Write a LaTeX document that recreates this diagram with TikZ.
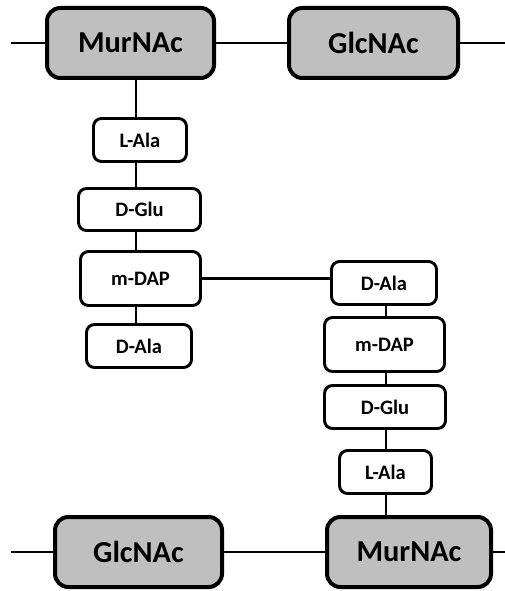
\documentclass[tikz,border=0pt]{standalone}
\usepackage{fontspec}
\setmainfont{Carlito}
\definecolor{sugargray}{HTML}{BFBFBF}
\tikzset{
  sugar/.style={draw, line width=3pt, rounded corners=10pt, fill=sugargray,
    inner sep=0pt, font=\fontsize{22.8}{27}\selectfont\bfseries},
  amino/.style={draw, line width=2.2pt, rounded corners=6pt, fill=white,
    inner sep=0pt, font=\fontsize{15.4}{18}\selectfont\bfseries},
  bond/.style={line width=1.9pt}
}
\begin{document}
\begin{tikzpicture}[x=0.75pt,y=-0.75pt]
\useasboundingbox (0,0) rectangle (505,591);

% glycan strands
\node[sugar, minimum width=167*0.75pt, minimum height=70*0.75pt] (murA) at (130.5,43) {MurNAc};
\node[sugar, minimum width=169*0.75pt, minimum height=70*0.75pt] (glcA) at (373.5,43) {GlcNAc};
\node[sugar, minimum width=167*0.75pt, minimum height=70*0.75pt] (glcB) at (138.5,552) {GlcNAc};
\node[sugar, minimum width=164*0.75pt, minimum height=70*0.75pt] (murB) at (409,552) {MurNAc};
\coordinate (endAl) at (11,43);
\coordinate (endAr) at (505,43);
\coordinate (endBl) at (11,552);
\coordinate (endBr) at (505,552);

% peptide stems
\node[amino, minimum width=93*0.75pt, minimum height=43*0.75pt] (laA) at (140,140) {L-Ala};
\node[amino, minimum width=122*0.75pt, minimum height=42*0.75pt] (dgA) at (139.5,209.5) {D-Glu};
\node[amino, minimum width=120*0.75pt, minimum height=54*0.75pt] (mdA) at (140.5,278.5) {m-DAP};
\node[amino, minimum width=105*0.75pt, minimum height=43*0.75pt] (daA) at (139,346) {D-Ala};

\node[amino, minimum width=105*0.75pt, minimum height=43*0.75pt] (daB) at (384,283) {D-Ala};
\node[amino, minimum width=120*0.75pt, minimum height=54*0.75pt] (mdB) at (384.5,344.5) {m-DAP};
\node[amino, minimum width=121*0.75pt, minimum height=43*0.75pt] (dgB) at (385,407) {D-Glu};
\node[amino, minimum width=92*0.75pt, minimum height=43*0.75pt] (laB) at (385.5,472) {L-Ala};

\coordinate (axisA) at (136,0);
\coordinate (axisB) at (386,0);

\draw[bond] (endAl) -- (murA.west);
\draw[bond] (murA.east) -- (glcA.west);
\draw[bond] (glcA.east) -- (endAr);
\draw[bond] (endBl) -- (glcB.west);
\draw[bond] (glcB.east) -- (murB.west);
\draw[bond] (murB.east) -- (endBr);

\draw[bond] (murA.south -| axisA) -- (laA.north -| axisA);
\draw[bond] (laA.south -| axisA) -- (dgA.north -| axisA);
\draw[bond] (dgA.south -| axisA) -- (mdA.north -| axisA);
\draw[bond] (mdA.south -| axisA) -- (daA.north -| axisA);

\draw[bond] (mdA.east) -- (mdA.east -| daB.west);

\draw[bond] (daB.south -| axisB) -- (mdB.north -| axisB);
\draw[bond] (mdB.south -| axisB) -- (dgB.north -| axisB);
\draw[bond] (dgB.south -| axisB) -- (laB.north -| axisB);
\draw[bond] (laB.south -| axisB) -- (murB.north -| axisB);
\end{tikzpicture}
\end{document}
